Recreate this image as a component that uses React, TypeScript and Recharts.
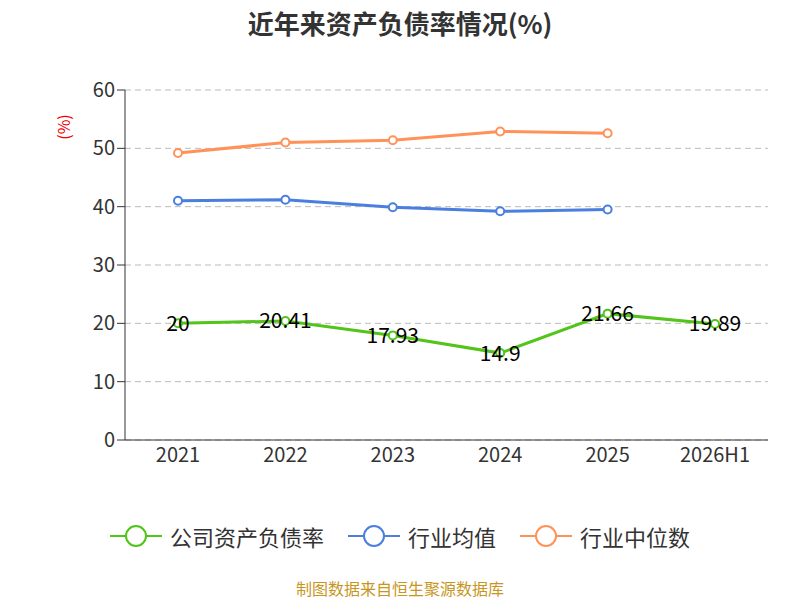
import { LineChart, Line, XAxis, YAxis, CartesianGrid, LabelList } from 'recharts';

const years = ['2021', '2022', '2023', '2024', '2025', '2026H1'];
const company = [20, 20.41, 17.93, 14.9, 21.66, 19.89];
const industryAvg = [41.0, 41.2, 39.9, 39.2, 39.5, null];
const industryMedian = [49.2, 51.0, 51.4, 52.9, 52.6, null];
const yTicks = [0, 10, 20, 30, 40, 50, 60];

const data = years.map((year, i) => ({
  year,
  company: company[i],
  avg: industryAvg[i],
  median: industryMedian[i],
}));

const font = '"Noto Sans CJK SC", "Noto Sans", sans-serif';

const legendItems = [
  { name: '公司资产负债率', color: '#52c41a' },
  { name: '行业均值', color: '#4a7fe0' },
  { name: '行业中位数', color: '#ff9259' },
];

export default function App() {
  return (
    <div style={{ position: 'absolute', left: 0, top: 0, width: 800, height: 600, background: '#fff', fontFamily: font, overflow: 'hidden' }}>
      <div style={{ position: 'absolute', top: 4, width: 800, textAlign: 'center', fontSize: 26, fontWeight: 'bold', color: '#333' }}>
        近年来资产负债率情况(%)
      </div>
      <div style={{ position: 'absolute', left: 50, top: 115, color: '#e00', fontSize: 16, transform: 'rotate(-90deg)', transformOrigin: 'center' }}>
        (%)
      </div>
      <LineChart width={800} height={600} data={data} margin={{ top: 90, right: 32, bottom: 130, left: 65 }}>
        <CartesianGrid vertical={false} strokeDasharray="6 4" stroke="#bbb" />
        <XAxis
          dataKey="year"
          stroke="#333"
          padding={{ left: 53, right: 53 }}
          tick={{ fill: '#333', fontSize: 20, fontFamily: font }}
          tickMargin={8}
          tickSize={0}
        />
        <YAxis
          width={60}
          domain={[0, 60]}
          ticks={yTicks}
          stroke="#333"
          tick={{ fill: '#333', fontSize: 20, fontFamily: font }}
          tickSize={8}
        />
        <Line dataKey="median" stroke="#ff9259" strokeWidth={3} dot={{ r: 4, fill: '#fff', strokeWidth: 2 }} isAnimationActive={false} />
        <Line dataKey="avg" stroke="#4a7fe0" strokeWidth={3} dot={{ r: 4, fill: '#fff', strokeWidth: 2 }} isAnimationActive={false} />
        <Line dataKey="company" stroke="#52c41a" strokeWidth={3} dot={{ r: 4, fill: '#fff', strokeWidth: 2 }} isAnimationActive={false}>
          <LabelList dataKey="company" position="center" fill="#000" fontSize={21} fontFamily={font} />
        </Line>
      </LineChart>
      <div style={{ position: 'absolute', top: 520, width: 800, display: 'flex', justifyContent: 'center', gap: 24, fontSize: 22, color: '#333' }}>
        {legendItems.map((it) => (
          <div key={it.name} style={{ display: 'flex', alignItems: 'center', gap: 8 }}>
            <svg width={52} height={30}>
              <line x1={0} y1={15} x2={52} y2={15} stroke={it.color} strokeWidth={2} />
              <circle cx={26} cy={15} r={10} fill="#fff" stroke={it.color} strokeWidth={2} />
            </svg>
            <span>{it.name}</span>
          </div>
        ))}
      </div>
      <div style={{ position: 'absolute', top: 578, width: 800, textAlign: 'center', fontSize: 16, lineHeight: '20px', color: '#c8961e' }}>
        制图数据来自恒生聚源数据库
      </div>
    </div>
  );
}
